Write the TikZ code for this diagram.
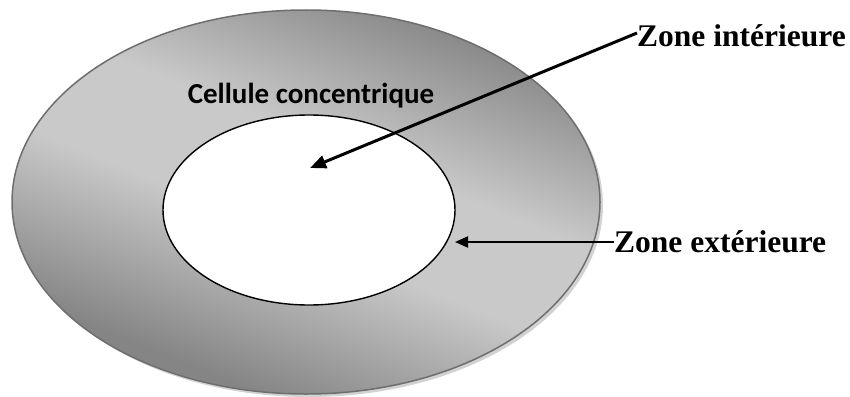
\documentclass[tikz,border=0pt]{standalone}
\usepackage{fontspec}
\setmainfont{Liberation Serif}
\newfontfamily\labelsans{Carlito}
\usetikzlibrary{arrows.meta}
\definecolor{ringdark}{HTML}{858585}
\definecolor{ringlight}{HTML}{C9C9C9}
\definecolor{ringedge}{HTML}{6E6E6E}
\definecolor{ringshadow}{HTML}{D2D2D2}
% diagonal grey gradient of the outer zone: dark edges, broad light band
\pgfdeclareverticalshading{ringshade}{100bp}{%
  color(0bp)=(ringdark); color(28bp)=(ringdark); color(46bp)=(ringlight);
  color(57bp)=(ringlight); color(75bp)=(ringdark); color(100bp)=(ringdark)}
\tikzset{
  zonelabel/.style={font=\bfseries\fontsize{31.5}{36}\selectfont, inner sep=0pt},
  celllabel/.style={font=\labelsans\bfseries\fontsize{29}{33}\selectfont, inner sep=0pt},
  pointer/.style={draw=black, line width=3pt, -{Triangle[length=16pt,width=13pt]}},
  pointerthin/.style={draw=black, line width=2pt, -{Triangle[length=13pt,width=11pt]}},
}
\begin{document}
\begin{tikzpicture}[x=1pt,y=1pt]
\useasboundingbox (0,0) rectangle (850,-396);
% drop shadow of the outer disc
\fill[ringshadow] (309,-205) ellipse [x radius=294, y radius=192];
% outer disc
\shade[shading=ringshade, shading angle=-22]
  (306,-202) ellipse [x radius=294, y radius=192];
\draw[ringedge, line width=1.5pt] (306,-202) ellipse [x radius=294, y radius=192];
% inner white zone
\draw[black, line width=1.4pt, fill=white] (309,-210) ellipse [x radius=146, y radius=95];
% labels
\node[celllabel, anchor=base] (cell) at (311,-103) {Cellule concentrique};
\node[zonelabel, anchor=base west] (zi) at (637,-47) {Zone intérieure};
\node[zonelabel, anchor=base west] (ze) at (614,-252) {Zone extérieure};
% arrow targets
\coordinate (tipin) at (310,-168);
\coordinate (tipout) at (455,-242);
\draw[pointer] ([yshift=14pt]zi.base west) -- (tipin);
\draw[pointerthin] ([yshift=10pt]ze.base west) -- (tipout);
\end{tikzpicture}
\end{document}
